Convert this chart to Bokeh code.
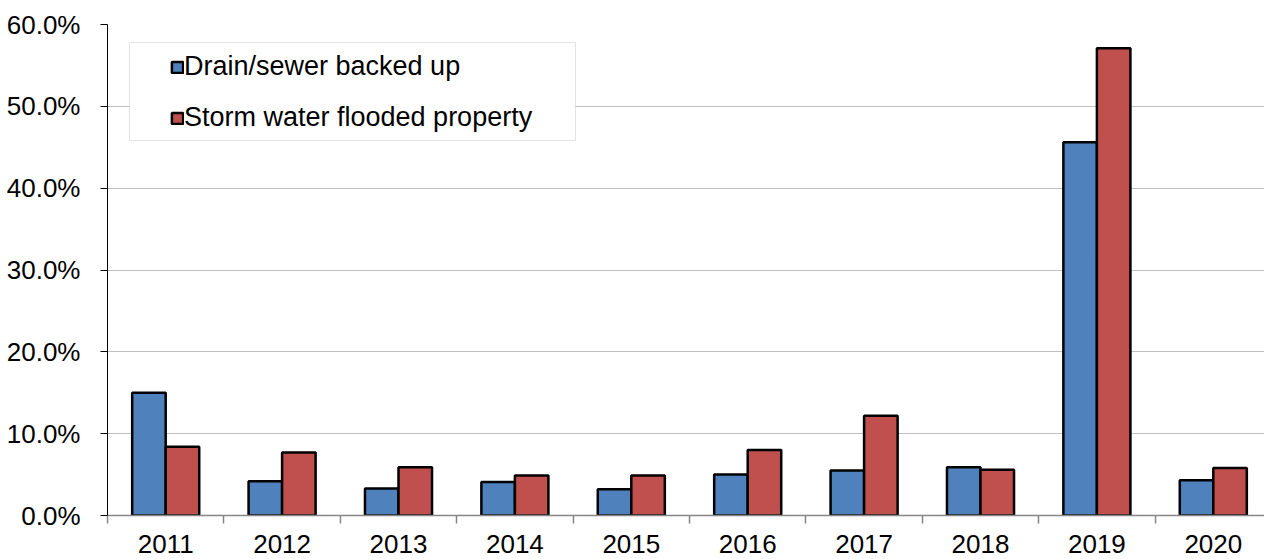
from bokeh.plotting import figure
from bokeh.models import (ColumnDataSource, Range1d, LinearAxis, FixedTicker,
                          PrintfTickFormatter, Legend, LegendItem, BoxAnnotation)
from bokeh.transform import dodge
from bokeh.embed import file_html
from bokeh.resources import INLINE

years = ["2011", "2012", "2013", "2014", "2015", "2016", "2017", "2018", "2019", "2020"]
drain_sewer = [15.0, 4.2, 3.3, 4.1, 3.2, 5.0, 5.5, 5.9, 45.6, 4.3]
storm_water = [8.4, 7.7, 5.9, 4.9, 4.9, 8.0, 12.2, 5.6, 57.1, 5.8]
y_ticks = [0, 10, 20, 30, 40, 50, 60]

FONT = "Liberation Sans"
n = len(years)
centers = [i + 0.5 for i in range(n)]
bounds = [float(i) for i in range(n)]
bar_w = 0.288

src = ColumnDataSource(dict(x=centers, drain=drain_sewer, storm=storm_water))

W, H = 1264, 559
left_b, top_b = 107, 24
frame_h = 491
bottom_b = H - top_b - frame_h
frame_w = W - left_b
x_end = frame_w / 116.4

p = figure(width=W, height=H, output_backend="svg", toolbar_location=None,
           x_range=Range1d(0, x_end), y_range=Range1d(0, 60),
           x_axis_location=None, y_axis_location=None,
           min_border_left=left_b, min_border_right=0,
           min_border_top=top_b, min_border_bottom=bottom_b)
p.outline_line_color = None
p.background_fill_color = "white"

r1 = p.vbar(x=dodge("x", -bar_w / 2, range=p.x_range), top="drain", width=bar_w,
            source=src, fill_color="#4F81BD", line_color="black", line_width=2.5)
r2 = p.vbar(x=dodge("x", bar_w / 2, range=p.x_range), top="storm", width=bar_w,
            source=src, fill_color="#C0504D", line_color="black", line_width=2.5)

# y axis
yax = LinearAxis(ticker=FixedTicker(ticks=y_ticks, minor_ticks=[]),
                 formatter=PrintfTickFormatter(format="%.1f%%"))
yax.axis_line_color = "black"
yax.axis_line_width = 1
yax.major_tick_line_color = "black"
yax.major_tick_out = 7
yax.major_tick_in = 0
yax.minor_tick_line_color = None
yax.major_label_standoff = 20
yax.major_label_text_font = FONT
yax.major_label_text_font_size = "26px"
yax.major_label_text_color = "black"
p.add_layout(yax, "left")

# x axis: labels at category centers, ticks at category boundaries
xax = LinearAxis(ticker=FixedTicker(ticks=centers, minor_ticks=bounds))
xax.major_label_overrides = {c: y for c, y in zip(centers, years)}
xax.axis_line_color = "#868686"
xax.axis_line_width = 1.5
xax.major_tick_line_color = None
xax.major_tick_out = 0
xax.major_tick_in = 0
xax.minor_tick_line_color = "#868686"
xax.minor_tick_line_width = 1.5
xax.minor_tick_out = 8
xax.minor_tick_in = 0
xax.major_label_standoff = 11
xax.major_label_text_font = FONT
xax.major_label_text_font_size = "26px"
xax.major_label_text_color = "black"
p.add_layout(xax, "below")

p.ygrid.ticker = FixedTicker(ticks=y_ticks)
p.ygrid.grid_line_color = "#C0C0C0"
p.ygrid.grid_line_width = 1
p.xgrid.grid_line_color = None

# legend frame
box = BoxAnnotation(left=22, right=468, top=473, bottom=375,
                    left_units="screen", right_units="screen",
                    top_units="screen", bottom_units="screen",
                    fill_color="white", fill_alpha=1.0,
                    line_color="#A6A6A6", line_width=1)
p.add_layout(box)

legend = Legend(items=[LegendItem(label="Drain/sewer backed up", renderers=[r1]),
                       LegendItem(label="Storm water flooded property", renderers=[r2])],
                location=(63, 382), orientation="vertical")
legend.border_line_color = None
legend.background_fill_alpha = 0
legend.padding = 0
legend.margin = 0
legend.spacing = 20
legend.label_height = 30
legend.glyph_height = 14
legend.glyph_width = 14
legend.label_standoff = 0
legend.label_text_font = FONT
legend.label_text_font_size = "27px"
legend.label_text_color = "black"
legend.label_text_baseline = "middle"
p.add_layout(legend, "center")

open("out.html", "w").write(file_html(p, INLINE))
